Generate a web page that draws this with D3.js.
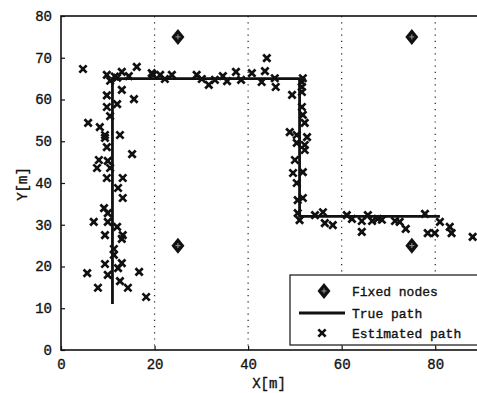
<!DOCTYPE html>
<html>
<head>
<meta charset="utf-8">
<script src="https://cdn.jsdelivr.net/npm/d3@7"></script>
<style>
  body { margin: 0; background: #fff; }
  svg { display: block; }
  text { font-family: "Liberation Mono", "DejaVu Sans Mono", monospace; fill: #111; stroke: #111; stroke-width: 0.35px; }
</style>
</head>
<body>
<figure id="chart" style="margin:0"></figure>
<script>
// fixed anchor nodes
const fixedX = [25, 75, 25, 75];
const fixedY = [75, 75, 25, 25];

// true walking path (corners)
const trueX = [11, 11, 51, 51, 81];
const trueY = [11, 65, 65, 32, 32];

// estimated positions
const estX = [4.7, 9.8, 11.5, 13, 16.2, 14.5, 19.4, 13, 15.6, 9.8, 9.8, 12, 5.8, 8.3, 9.4, 12.6, 10.5,
  9.4, 9.8, 15.2, 8.1, 7.7, 10, 10.5, 9.8, 13.2, 12.2, 13.2, 9.2, 10, 7, 10,
  12, 9.4, 13.2, 13, 11.3, 11.3, 9.4, 13, 12.2, 5.6, 10, 16.7, 12.6, 7.9, 14.3, 18.2,
  10.5, 12, 19.7, 21.2, 22.2, 23.7, 29, 30.1, 31.6, 32.9, 34.6, 35.5, 37.4, 38.5, 40.8, 43.6, 44, 42.9, 45.7, 45.9, 49.4, 51.5, 51.5, 51.7,
  51.5, 51.5, 51.7, 52.1, 48.9, 50.4, 52.6, 50.4, 52.1, 52.1, 50, 49.6, 51.7, 50.4, 50.6, 51.7, 50.6, 51, 54.3,
  56, 56.4, 58.1, 61.1, 62.2, 64.3, 64.3, 65.6, 66.5, 67.7, 68.6, 71.4, 72.4, 73.7, 77.8, 78.4, 79.9, 81, 83.1, 83.5, 88];
const estY = [67.3, 65.9, 65.5, 66.6, 67.8, 65.6, 66.3, 62.3, 60.1, 61, 58.2, 58.9, 54.4, 53.4, 51.5, 51.5, 56,
  50.8, 48.6, 46.9, 45.5, 43.6, 45.3, 43.6, 41.2, 41.2, 38.8, 36.4, 34, 32.8, 30.7, 30.7,
  29.5, 27.5, 27.5, 26.6, 24.2, 22.8, 20.6, 20.8, 19.6, 18.4, 18, 18.7, 16.5, 14.9, 14.9, 12.7,
  64.5, 65.2, 65.9, 65.9, 64.9, 65.9, 65.9, 64.9, 63.5, 64.7, 65.6, 64.4, 66.6, 64.7, 66.3, 66.8, 69.9, 64.2, 65.1, 63, 61.1, 64.2, 61.8, 65.1,
  63, 58.2, 56.3, 54.4, 52.2, 51.5, 51, 49.6, 49.1, 47.9, 45.5, 42.4, 42.6, 40, 35.9, 36.4, 32.8, 31.1, 32.3,
  33, 30.4, 29.9, 32.3, 31.4, 30.9, 28.3, 32.3, 30.9, 31.4, 31.2, 30.9, 30.7, 29, 32.6, 28, 28, 30.7, 29.5, 28, 27.1];

const xTicks = [0, 20, 40, 60, 80];
const yTicks = [0, 10, 20, 30, 40, 50, 60, 70, 80];
const legendLabels = ["Fixed nodes", "True path", "Estimated path"];

const width = 477, height = 393;
const svg = d3.select("#chart").append("svg")
  .attr("width", width)
  .attr("height", height);

const x = d3.scaleLinear().domain([0, 90]).range([61, 482]);
const y = d3.scaleLinear().domain([0, 80]).range([350, 16]);

// dotted vertical grid
svg.append("g")
  .selectAll("line")
  .data(xTicks.filter(d => d > 0))
  .join("line")
  .attr("x1", d => x(d)).attr("x2", d => x(d))
  .attr("y1", y(80)).attr("y2", y(0))
  .attr("stroke", "#222")
  .attr("stroke-width", 1.2)
  .attr("stroke-dasharray", "1.2,5");

// frame
svg.append("rect")
  .attr("x", x(0)).attr("y", y(80))
  .attr("width", x(90) - x(0)).attr("height", y(0) - y(80))
  .attr("fill", "none")
  .attr("stroke", "#111")
  .attr("stroke-width", 1.6);

// axes
const xAxis = svg.append("g")
  .attr("transform", "translate(0," + y(0) + ")")
  .call(d3.axisBottom(x).tickValues(xTicks).tickSize(-4).tickPadding(9));
const yAxis = svg.append("g")
  .attr("transform", "translate(" + x(0) + ",0)")
  .call(d3.axisLeft(y).tickValues(yTicks).tickSize(-4).tickPadding(9));
[xAxis, yAxis].forEach(g => {
  g.select(".domain").remove();
  g.selectAll(".tick line").attr("stroke", "#111").attr("stroke-width", 1.2);
  g.selectAll(".tick text").attr("font-size", 14).attr("fill", "#111")
    .attr("font-family", "Liberation Mono, DejaVu Sans Mono, monospace");
});

svg.append("text")
  .attr("x", 269).attr("y", 388)
  .attr("text-anchor", "middle")
  .attr("font-size", 14)
  .text("X[m]");
svg.append("text")
  .attr("transform", "translate(27,184) rotate(-90)")
  .attr("text-anchor", "middle")
  .attr("font-size", 14)
  .text("Y[m]");

// true path
svg.append("path")
  .datum(d3.zip(trueX, trueY))
  .attr("fill", "none")
  .attr("stroke", "#111")
  .attr("stroke-width", 2.8)
  .attr("d", d3.line().x(d => x(d[0])).y(d => y(d[1])));

// estimated path markers
function drawStar(sel) {
  sel.append("path")
    .attr("d", d3.symbol(d3.symbolTimes, 36)())
    .attr("stroke", "#111").attr("stroke-width", 2.7).attr("fill", "none");
  sel.append("path")
    .attr("d", d3.symbol(d3.symbolSquare, 12)())
    .attr("fill", "#111");
}
svg.append("g")
  .selectAll("g")
  .data(d3.zip(estX, estY))
  .join("g")
  .attr("transform", d => "translate(" + x(d[0]) + "," + y(d[1]) + ")")
  .call(drawStar);

// fixed nodes
function drawDiamond(sel) {
  sel.append("path")
    .attr("d", "M0,-8 L6.5,0 L0,8 L-6.5,0 Z")
    .attr("fill", "#111");
  sel.append("path")
    .attr("d", "M-2.5,0 H2.5 M0,-2.5 V2.5")
    .attr("stroke", "#999").attr("stroke-width", 1);
}
svg.append("g")
  .selectAll("g")
  .data(d3.zip(fixedX, fixedY))
  .join("g")
  .attr("transform", d => "translate(" + x(d[0]) + "," + y(d[1]) + ")")
  .call(drawDiamond);

// legend
const lg = svg.append("g");
lg.append("rect")
  .attr("x", 290).attr("y", 275)
  .attr("width", 200).attr("height", 70)
  .attr("fill", "#fff")
  .attr("stroke", "#111")
  .attr("stroke-width", 1.2);
const rows = [291, 313, 333];
lg.append("g").attr("transform", "translate(324," + rows[0] + ")").call(drawDiamond);
lg.append("line")
  .attr("x1", 299).attr("x2", 345)
  .attr("y1", rows[1]).attr("y2", rows[1])
  .attr("stroke", "#111").attr("stroke-width", 2.8);
lg.append("g").attr("transform", "translate(322," + rows[2] + ")").call(drawStar);
lg.selectAll("text.lbl")
  .data(legendLabels)
  .join("text")
  .attr("class", "lbl")
  .attr("x", 352)
  .attr("y", (d, i) => rows[i] + 4.5)
  .attr("font-size", 13)
  .text(d => d);
</script>
</body>
</html>
